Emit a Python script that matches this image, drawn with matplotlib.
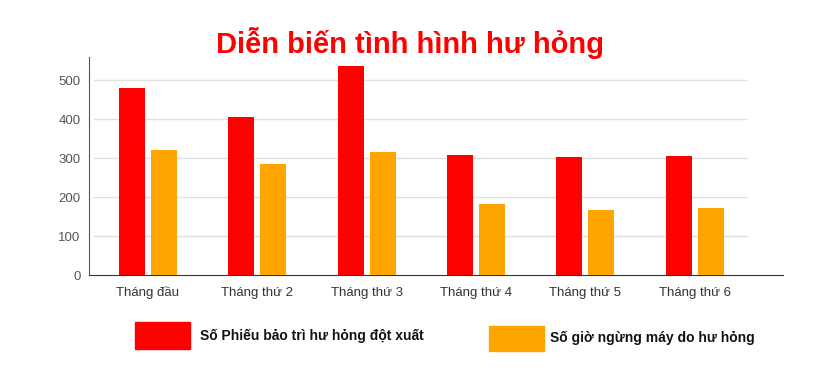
import numpy as np
import matplotlib.pyplot as plt
from matplotlib.patches import Rectangle

plt.rcParams['font.family'] = ['Liberation Sans', 'DejaVu Sans']

# dữ liệu
thang = ["Tháng đầu", "Tháng thứ 2", "Tháng thứ 3", "Tháng thứ 4", "Tháng thứ 5", "Tháng thứ 6"]
so_phieu = [481, 406, 537, 309, 303, 306]
so_gio = [321, 285, 315, 183, 167, 173]
ten_phieu = "Số Phiếu bảo trì hư hỏng đột xuất"
ten_gio = "Số giờ ngừng máy do hư hỏng"
mau_phieu = "#FF0000"
mau_gio = "#FFA500"

fig = plt.figure(figsize=(8.2, 3.74), dpi=100)
ax = fig.add_axes([0.1085, 0.264, 0.8465, 0.584])

x = np.arange(len(thang))
w = 0.238
ax.bar(x - 0.146, so_phieu, w, color=mau_phieu, zorder=3)
ax.bar(x + 0.146, so_gio, w, color=mau_gio, zorder=3)

ax.set_xlim(-0.54, 5.81)
ax.set_ylim(0, 560)
yt = [0, 100, 200, 300, 400, 500]
ax.set_yticks(yt)
# lưới ngang
ax.hlines(yt[1:], -0.5, 5.48, colors="#e0e0e0", linewidth=1, zorder=1)

ax.set_xticks(x)
ax.set_xticklabels(thang, fontsize=9.5, color="#333333")
for lb in ax.get_xticklabels():
    lb.set_verticalalignment("baseline")
ax.tick_params(axis="x", length=0, pad=15)
ax.tick_params(axis="y", length=0, pad=6, labelsize=9.5, labelcolor="#555555")

for s in ["top", "right"]:
    ax.spines[s].set_visible(False)
ax.spines["left"].set_color("#555555")
ax.spines["bottom"].set_color("#333333")
ax.spines["left"].set_linewidth(0.8)
ax.spines["bottom"].set_linewidth(0.8)

fig.text(0.5, 0.885, "Diễn biến tình hình hư hỏng", ha="center", va="center",
         fontsize=21, fontweight="bold", color="#FF0000")

# chú thích
W, H = 820, 374
fig.patches.append(Rectangle((135 / W, 1 - 349 / H), 55 / W, 27 / H,
                             transform=fig.transFigure, color=mau_phieu))
fig.text(200 / W, 1 - 336 / H, ten_phieu, fontsize=10, fontweight="bold",
         va="center", color="#111111")
fig.patches.append(Rectangle((489 / W, 1 - 351 / H), 55 / W, 25 / H,
                             transform=fig.transFigure, color=mau_gio))
fig.text(550 / W, 1 - 338 / H, ten_gio, fontsize=10, fontweight="bold",
         va="center", color="#111111")

fig.savefig("out.png", dpi=100)
